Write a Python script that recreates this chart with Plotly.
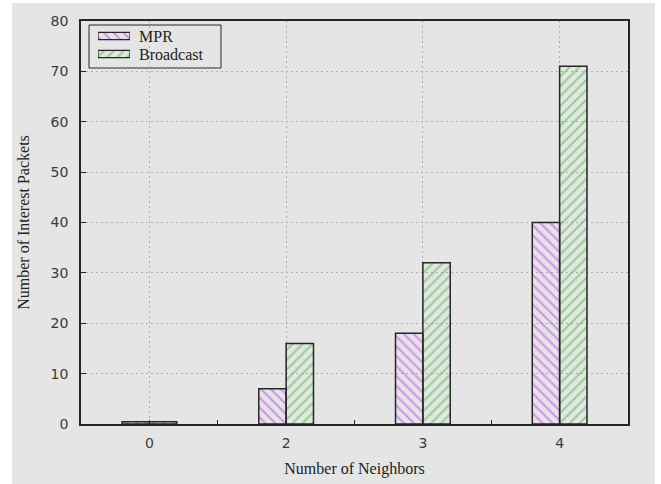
import plotly.graph_objects as go

# Packets sent per neighbour count
categories = ["0", "2", "3", "4"]
mpr = [0.45, 7, 18, 40]
broadcast = [0.45, 16, 32, 71]
y_ticks = [0, 10, 20, 30, 40, 50, 60, 70, 80]
series_names = ["MPR", "Broadcast"]

BG = "#e5e5e5"
FRAME = "#262626"
GRID = "#b0b0b0"
SERIF = "Liberation Serif"
SANS = "DejaVu Sans"
COLORS = {"MPR": "#c040f8", "Broadcast": "#3cc03c"}
HATCH = {"MPR": "\\", "Broadcast": "/"}

W, H = 661, 484
L, R, T, B = 81, 33, 21, 60
pw, ph = W - L - R, H - T - B


def px_x(p):
    return (p - L) / pw


def px_y(p):
    return (H - B - p) / ph


def bar_marker(name, line_width=1.5):
    return dict(
        color="rgba(0,0,0,0)",
        line=dict(color=FRAME, width=line_width),
        pattern=dict(shape=HATCH[name], fgcolor=COLORS[name], bgcolor="rgba(0,0,0,0)",
                     size=7, solidity=0.3, fillmode="overlay"),
    )


xpos = list(range(len(categories)))

fig = go.Figure()
fig.add_trace(go.Bar(x=xpos, y=mpr, name="MPR", width=0.2, offset=-0.2,
                     marker=bar_marker("MPR"), showlegend=False))
fig.add_trace(go.Bar(x=xpos, y=broadcast, name="Broadcast", width=0.2, offset=0.0,
                     marker=bar_marker("Broadcast"), showlegend=False))

# Legend: wide hatched swatches on a small hidden axis pair
for name in series_names:
    fig.add_trace(go.Bar(
        x=[1], y=[name], orientation="h", width=0.4,
        marker=bar_marker(name, 1.2),
        xaxis="x2", yaxis="y2", showlegend=False, hoverinfo="skip",
    ))
    fig.add_annotation(
        x=px_x(137), y=name, xref="paper", yref="y2",
        text=name, showarrow=False, xanchor="left", yanchor="middle",
        font=dict(family=SERIF, size=16, color="#222"),
    )

# Grey panel behind the chart (page edge stays white on the left/top)
fig.add_shape(type="rect", xref="paper", yref="paper", layer="below",
              x0=px_x(12), x1=px_x(655), y0=px_y(H), y1=px_y(3),
              fillcolor=BG, line=dict(width=0))
# Legend box
fig.add_shape(type="rect", xref="paper", yref="paper", layer="between",
              x0=px_x(89), x1=px_x(221), y0=px_y(68), y1=px_y(25),
              fillcolor=BG, line=dict(color=FRAME, width=1))

fig.update_layout(
    width=W, height=H,
    margin=dict(l=L, r=R, t=T, b=B, pad=0),
    paper_bgcolor="white", plot_bgcolor=BG,
    barmode="overlay",
    showlegend=False,
    font=dict(family=SANS, size=14, color="#3a3a3a"),
    xaxis=dict(
        range=[-0.5, len(categories) - 0.5],
        tickmode="array", tickvals=xpos, ticktext=categories,
        ticks="inside", ticklen=4, tickcolor=FRAME, tickwidth=1,
        minor=dict(tickvals=[i + 0.5 for i in xpos[:-1]], ticks="inside",
                   ticklen=4, tickcolor=FRAME, tickwidth=1, showgrid=False),
        showline=True, linecolor=FRAME, linewidth=1.5, mirror=True,
        showgrid=True, gridcolor=GRID, griddash="2px,3px", gridwidth=1,
        zeroline=False, automargin=False,
        tickfont=dict(family=SANS, size=14, color="#3a3a3a"),
        ticklabelstandoff=5,
        title=dict(text="Number of Neighbors",
                   font=dict(family=SERIF, size=16, color="#222"), standoff=13),
    ),
    yaxis=dict(
        range=[0, 80],
        tickmode="array", tickvals=y_ticks,
        ticks="inside", ticklen=5, tickcolor=FRAME, tickwidth=1,
        showline=True, linecolor=FRAME, linewidth=1.5, mirror=True,
        showgrid=True, gridcolor=GRID, griddash="2px,3px", gridwidth=1,
        zeroline=False, automargin=False,
        tickfont=dict(family=SANS, size=14, color="#3a3a3a"),
        ticklabelstandoff=8,
        title=dict(text="Number of Interest Packets",
                   font=dict(family=SERIF, size=16, color="#222"), standoff=17),
    ),
    xaxis2=dict(domain=[px_x(98), px_x(130)], range=[0, 1], anchor="y2",
                visible=False, fixedrange=True),
    yaxis2=dict(domain=[px_y(63), px_y(27)], range=[-0.5, 1.5], anchor="x2",
                type="category", categoryorder="array",
                categoryarray=series_names[::-1],
                visible=False, fixedrange=True),
)

fig.write_html("out.html")
